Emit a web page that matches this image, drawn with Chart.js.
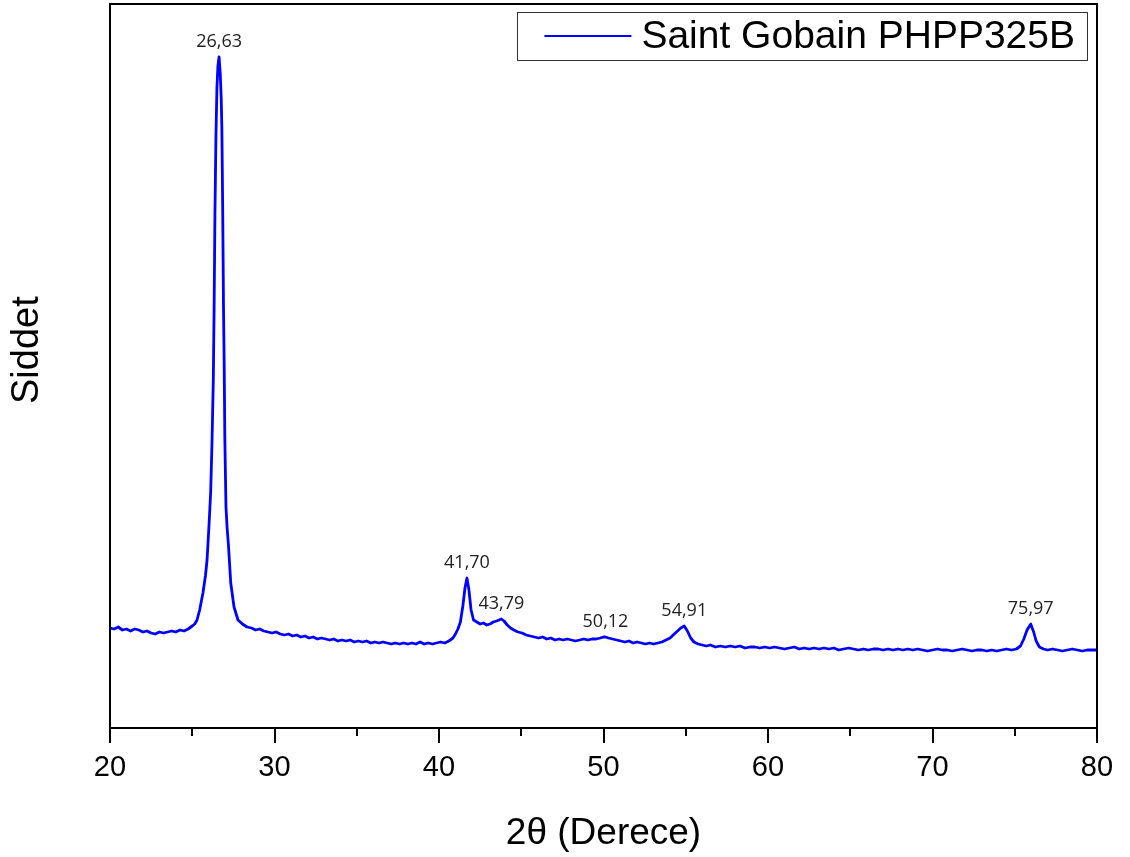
<!DOCTYPE html>
<html lang="tr">
<head>
<meta charset="utf-8">
<title>XRD - Saint Gobain PHPP325B</title>
<script src="https://cdn.jsdelivr.net/npm/chart.js@4.4.1/dist/chart.umd.min.js"></script>
<style>
  html, body { margin: 0; padding: 0; background: #fff; }
  #wrap { width: 1130px; height: 857px; }
</style>
</head>
<body>
<div id="wrap"><canvas id="xrd" width="1130" height="857"></canvas></div>
<script>
// XRD deseni — 2θ (derece) ve şiddet (keyfi birim)
const seriesLabel = 'Saint Gobain PHPP325B';

const twoTheta = [
  20.00, 20.25, 20.50, 20.75, 21.00, 21.25, 21.50, 21.75, 22.00, 22.25, 22.50, 22.75, 23.00, 23.25, 23.50, 23.75, 24.00, 24.25, 24.50, 24.75, 25.00,
  25.15, 25.29, 25.45, 25.65, 25.80, 25.90, 26.02, 26.12, 26.20, 26.28, 26.33, 26.38, 26.44, 26.50, 26.56, 26.63, 26.70, 26.76, 26.80, 26.85, 26.90, 26.94, 26.98, 27.05, 27.12, 27.20, 27.34, 27.54, 27.78, 28.05, 28.33,
  28.60, 28.85, 29.10, 29.35, 29.60, 29.85, 30.10, 30.35, 30.60, 30.85, 31.10, 31.35, 31.60, 31.85, 32.10, 32.35, 32.60, 32.85, 33.10, 33.35, 33.60, 33.85, 34.10, 34.35, 34.60, 34.85,
  35.10, 35.35, 35.60, 35.85, 36.10, 36.35, 36.60, 36.85, 37.10, 37.35, 37.60, 37.85, 38.10, 38.35, 38.60, 38.85, 39.10, 39.35, 39.60, 39.85, 40.10, 40.35, 40.60, 40.85,
  41.00, 41.15, 41.30, 41.45, 41.58, 41.70, 41.82, 41.95, 42.10, 42.30, 42.50, 42.70, 42.90, 43.10, 43.30, 43.50, 43.65, 43.79, 43.95, 44.15, 44.35, 44.55, 44.80,
  45.05, 45.30, 45.55, 45.80, 46.05, 46.30, 46.55, 46.80, 47.05, 47.30, 47.55, 47.80, 48.05, 48.30, 48.55, 48.80, 49.05, 49.30, 49.55, 49.80, 50.00, 50.12, 50.30, 50.55, 50.80,
  51.05, 51.30, 51.55, 51.80, 52.05, 52.30, 52.55, 52.80, 53.05, 53.30, 53.55, 53.80, 54.05, 54.30, 54.50, 54.70, 54.91, 55.10, 55.30, 55.50, 55.75, 56.00, 56.25,
  56.50, 56.80, 57.10, 57.40, 57.70, 58.00, 58.30, 58.60, 58.90, 59.20, 59.50, 59.80, 60.10, 60.40, 60.70, 61.00, 61.30, 61.60, 61.90, 62.20, 62.50, 62.80, 63.10, 63.40, 63.70,
  64.00, 64.30, 64.60, 64.90, 65.20, 65.50, 65.80, 66.10, 66.40, 66.70, 67.00, 67.30, 67.60, 67.90, 68.20, 68.50, 68.80, 69.10, 69.40, 69.70, 70.00, 70.30, 70.60, 70.90,
  71.20, 71.50, 71.80, 72.10, 72.40, 72.70, 73.00, 73.30, 73.60, 73.90, 74.20, 74.50, 74.80, 75.10, 75.35, 75.55, 75.75, 75.97, 76.15, 76.30, 76.50, 76.75,
  77.00, 77.30, 77.60, 77.90, 78.20, 78.50, 78.80, 79.10, 79.40, 79.70, 80.00
];

const intensity = [
  100, 99, 101, 98, 99, 97, 99, 98, 96, 97, 95, 94, 96, 95, 96, 97, 96, 98, 97, 99, 102,
  104, 108, 118, 135, 152, 168, 203, 236, 285, 348, 421, 515, 591, 640, 662, 671, 655, 630, 600, 521, 420, 365, 291, 221, 200, 183, 145, 121, 108, 104, 101,
  100, 98, 99, 97, 96, 95, 96, 94, 93, 94, 92, 93, 91, 92, 90, 91, 89, 90, 89, 88, 89, 87, 88, 87, 88, 86,
  87, 86, 87, 85, 86, 85, 86, 85, 84, 85, 84, 85, 84, 85, 84, 86, 84, 85, 84, 85, 86, 85, 87, 90,
  94, 99, 106, 122, 140, 150, 138, 118, 108, 106, 104, 105, 103, 104, 106, 107, 108, 109, 107, 103, 100, 98, 96,
  95, 93, 92, 91, 90, 91, 89, 90, 88, 89, 88, 89, 88, 87, 88, 89, 88, 89, 89, 90, 91, 91, 90, 89, 88,
  87, 86, 87, 85, 86, 85, 84, 85, 84, 85, 86, 88, 90, 94, 97, 100, 102, 97, 90, 86, 84, 83, 82,
  83, 81, 82, 81, 82, 81, 82, 80, 81, 81, 80, 81, 80, 81, 80, 79, 80, 81, 79, 80, 79, 80, 79, 80, 79,
  80, 78, 79, 80, 79, 78, 79, 78, 79, 79, 78, 79, 78, 79, 78, 79, 78, 79, 78, 77, 78, 79, 78, 78,
  77, 78, 79, 78, 77, 78, 78, 77, 78, 77, 78, 79, 78, 79, 82, 89, 98, 104, 96, 87, 81, 79,
  78, 79, 78, 77, 78, 79, 78, 77, 78, 78, 78
];

// etiketlenen tepe konumları (2θ)
const peakAngles = [26.63, 41.70, 43.79, 50.12, 54.91, 75.97];

const xTicks = { min: 20, max: 80, major: 10, minor: 5 };
const yRange = { min: 0, max: 724 };

const AXIS_FONT = '"Liberation Sans", Arial, sans-serif';
const LINE_BLUE = '#0000FF';

const points = twoTheta.map((t, i) => ({ x: t, y: intensity[i] }));

// çerçeve + alt eksen çentikleri (büyük/küçük)
const frameTicks = {
  id: 'frameTicks',
  afterDraw(chart) {
    const { ctx, chartArea: a, scales: { x } } = chart;
    ctx.save();
    ctx.strokeStyle = '#000';
    ctx.lineWidth = 2;
    ctx.strokeRect(a.left, a.top, a.right - a.left, a.bottom - a.top);
    for (let v = xTicks.min; v <= xTicks.max; v += xTicks.minor) {
      const px = Math.round(x.getPixelForValue(v));
      const len = v % xTicks.major === 0 ? 15 : 8;
      ctx.beginPath();
      ctx.moveTo(px, a.bottom);
      ctx.lineTo(px, a.bottom + len);
      ctx.stroke();
    }
    ctx.restore();
  }
};

// tepe etiketleri: 2θ değeri virgüllü yazılır
const peakLabels = {
  id: 'peakLabels',
  afterDatasetsDraw(chart) {
    const { ctx, scales: { x, y } } = chart;
    ctx.save();
    ctx.font = '18px "Open Sans", sans-serif';
    ctx.fillStyle = '#222';
    ctx.textAlign = 'center';
    ctx.textBaseline = 'alphabetic';
    peakAngles.forEach(t => {
      const i = twoTheta.indexOf(t);
      const px = x.getPixelForValue(t);
      const py = y.getPixelForValue(intensity[i]);
      ctx.fillText(t.toFixed(2).replace('.', ','), px, py - 10);
    });
    ctx.restore();
  }
};

// sağ üstte kutulu gösterge
const boxLegend = {
  id: 'boxLegend',
  afterDraw(chart) {
    const { ctx, chartArea: a } = chart;
    const ds = chart.data.datasets[0];
    ctx.save();
    ctx.font = '39px ' + AXIS_FONT;
    const tw = ctx.measureText(ds.label).width;
    const h = 48;
    const w = 27 + 87 + 10 + tw + 12;
    const right = a.right - 10;
    const left = right - w;
    const top = a.top + 8;
    const cy = top + h / 2;
    ctx.strokeStyle = '#333';
    ctx.lineWidth = 1;
    ctx.strokeRect(Math.round(left) + 0.5, top + 0.5, Math.round(w), h);
    ctx.strokeStyle = ds.borderColor;
    ctx.lineWidth = 2;
    ctx.beginPath();
    ctx.moveTo(left + 27, cy);
    ctx.lineTo(left + 114, cy);
    ctx.stroke();
    ctx.fillStyle = '#000';
    ctx.textAlign = 'left';
    ctx.textBaseline = 'middle';
    ctx.fillText(ds.label, left + 124, cy + 1);
    ctx.restore();
  }
};

new Chart(document.getElementById('xrd'), {
  type: 'line',
  data: {
    datasets: [{
      label: seriesLabel,
      data: points,
      borderColor: LINE_BLUE,
      borderWidth: 2.8,
      borderJoinStyle: 'round',
      pointRadius: 0,
      // çok küçük gerilim: hızlı çizim yolunu kapatır, çizgi yine düz kalır
      tension: 0.0001,
      fill: false
    }]
  },
  options: {
    responsive: false,
    animation: false,
    devicePixelRatio: 1,
    layout: { padding: { left: 0, right: 33, top: 4, bottom: 0 } },
    plugins: {
      legend: { display: false },
      tooltip: { enabled: false }
    },
    scales: {
      x: {
        type: 'linear',
        min: xTicks.min,
        max: xTicks.max,
        grid: { display: false, drawTicks: false },
        border: { display: false },
        ticks: {
          stepSize: xTicks.major,
          color: '#000',
          padding: 5,
          font: { family: AXIS_FONT, size: 29, lineHeight: 2.4 }
        },
        title: {
          display: true,
          text: '2θ (Derece)',
          color: '#000',
          font: { family: AXIS_FONT, size: 37 },
          padding: { top: 3.7, bottom: 1.3 }
        }
      },
      y: {
        type: 'linear',
        min: yRange.min,
        max: yRange.max,
        grid: { display: false, drawTicks: false },
        border: { display: false },
        ticks: { display: false },
        title: {
          display: true,
          // baştaki boşluklar yazıyı biraz yukarı kaydırır
          text: '   Siddet',
          color: '#000',
          font: { family: AXIS_FONT, size: 38 },
          padding: { top: 5, bottom: 59.4 }
        }
      }
    }
  },
  plugins: [frameTicks, peakLabels, boxLegend]
});
</script>
</body>
</html>
